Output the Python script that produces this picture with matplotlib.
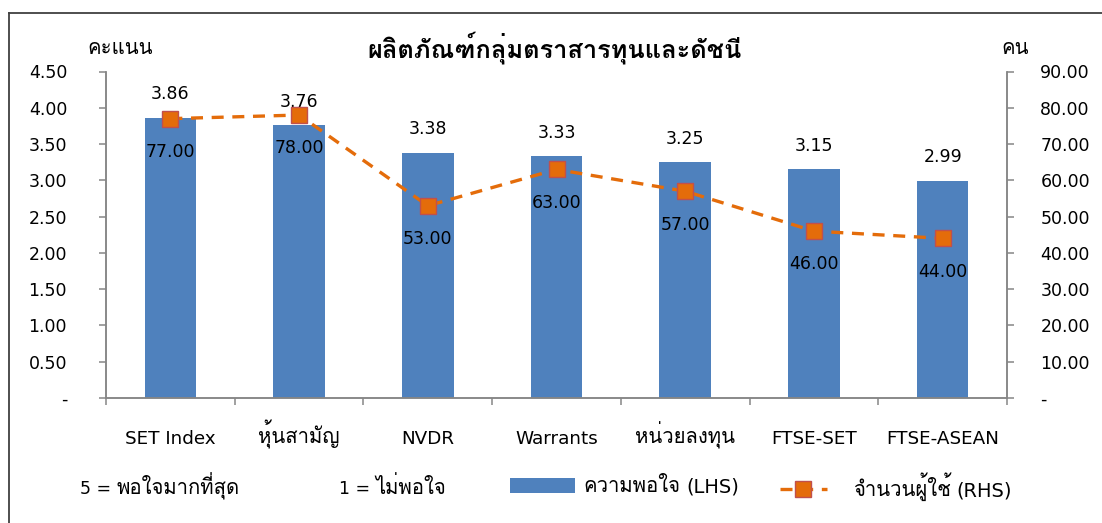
import re
import matplotlib
matplotlib.use("Agg")
import matplotlib.pyplot as plt
from matplotlib import font_manager
from matplotlib.ft2font import FT2Font
from matplotlib.lines import Line2D
from matplotlib.transforms import IdentityTransform
from matplotlib.ticker import FuncFormatter, MultipleLocator

categories = ['SET Index', 'หุ้นสามัญ', 'NVDR', 'Warrants', 'หน่วยลงทุน', 'FTSE-SET', 'FTSE-ASEAN']
scores = [3.86, 3.76, 3.38, 3.33, 3.25, 3.15, 2.99]
users = [77, 78, 53, 63, 57, 46, 44]

title = 'ผลิตภัณฑ์กลุ่มตราสารทุนและดัชนี'
left_label = 'คะแนน'
right_label = 'คน'
note_high = '5 = พอใจมากที่สุด'
note_low = '1 = ไม่พอใจ'
bar_name = 'ความพอใจ (LHS)'
line_name = 'จำนวนผู้ใช้ (RHS)'


def find_thai_font():
    """Return the name of an installed family that has Thai glyphs, if any."""
    seen = set()
    for f in font_manager.fontManager.ttflist:
        if f.name in seen:
            continue
        seen.add(f.name)
        try:
            if ord('ก') in FT2Font(f.fname).get_charmap():
                return f.name
        except Exception:
            pass
    return None


thai = find_thai_font()
plt.rcParams['font.family'] = ['DejaVu Sans'] + ([thai] if thai else [])

bar_color = '#4F81BD'
line_color = '#E46C0A'
edge_color = '#C0504D'
spine_color = '#868686'
fs = 12.5        # numbers
fs_cat = 13.2    # latin category names
fs_leg = 14      # latin part of the legend labels
thai_fs = 14.6   # thai glyphs come out smaller, so they get a bigger size
W, H = 1102, 523

fig = plt.figure(figsize=(W / 100, H / 100), dpi=100)
ax = fig.add_axes([106 / W, 1 - 398 / H, 901 / W, 326.5 / H])
ax2 = ax.twinx()

x = list(range(len(categories)))
bars = ax.bar(x, scores, width=0.4, color=bar_color, zorder=2)
ax.set_xlim(-0.5, len(categories) - 0.5)
ax.set_ylim(0, 4.5)
ax.yaxis.set_major_locator(MultipleLocator(0.5))
ax.yaxis.set_major_formatter(FuncFormatter(lambda v, p: '-' if abs(v) < 1e-9 else f'{v:.2f}'))

line, = ax2.plot(x, users, color=line_color, lw=2.4, dashes=(3.6, 2.6),
                 marker='s', markersize=12, markerfacecolor=line_color,
                 markeredgecolor=edge_color, markeredgewidth=1.0, zorder=3)
ax2.set_ylim(0, 90)
ax2.yaxis.set_major_locator(MultipleLocator(10))
ax2.yaxis.set_major_formatter(FuncFormatter(lambda v, p: '-' if abs(v) < 1e-9 else f'{v:.2f}'))

# category labels at centres, tick marks at the boundaries
ax.set_xticks(x)
ax.set_xticklabels(categories, fontsize=fs_cat)
ax.set_xticks([i - 0.5 for i in range(len(categories) + 1)], minor=True)
ax.xaxis.set_tick_params(which='major', length=0, pad=33)
ax.xaxis.set_tick_params(which='minor', length=5, width=1.1, color=spine_color, direction='out')
for lab in ax.get_xticklabels():
    lab.set_verticalalignment('baseline')
    if re.search('[\u0e00-\u0e7f]', lab.get_text()):
        lab.set_fontsize(thai_fs)

ax.yaxis.set_tick_params(which='major', length=5, width=1.1, color=spine_color, pad=23, labelsize=fs)
ax2.yaxis.set_tick_params(which='major', length=5, width=1.1, color=spine_color, pad=19, labelsize=fs)
for lab in ax2.get_yticklabels():
    lab.set_horizontalalignment('left')

for a in (ax, ax2):
    a.spines['top'].set_visible(False)
    for s in ('left', 'right', 'bottom'):
        a.spines[s].set_color(spine_color)
        a.spines[s].set_linewidth(1.1)
ax.patch.set_visible(False)
ax2.set_zorder(ax.get_zorder() + 1)

for xi, v in zip(x, scores):
    ax.annotate(f'{v:.2f}', (xi, v), xytext=(0, 17), textcoords='offset points',
                ha='center', va='center', fontsize=fs)
for xi, v in zip(x, users):
    ax2.annotate(f'{v:.2f}', (xi, v), xytext=(0, -24), textcoords='offset points',
                 ha='center', va='center', fontsize=fs)

fig.text(555 / W, 1 - 48 / H, title, ha='center', va='center', fontsize=18.3, fontweight='bold')
fig.text(87 / W, 1 - 48 / H, left_label, ha='left', va='center', fontsize=thai_fs)
fig.text(1001 / W, 1 - 48 / H, right_label, ha='left', va='center', fontsize=thai_fs)

renderer = fig.canvas.get_renderer()


def draw_runs(x_px, base_px, s, latin_size=fs):
    """Write s left-aligned at a pixel baseline, Thai runs at thai_fs, the rest at latin_size."""
    space_px = 0.318 * latin_size * 100 / 72
    cur = x_px
    for run in re.findall('[\u0e00-\u0e7f]+|[^\u0e00-\u0e7f]+', s):
        is_thai = '\u0e00' <= run[0] <= '\u0e7f'
        cur += (len(run) - len(run.lstrip())) * space_px
        t = fig.text(cur, base_px, run.strip(), transform=IdentityTransform(),
                     ha='left', va='baseline', fontsize=thai_fs if is_thai else latin_size)
        cur += t.get_window_extent(renderer).width
        cur += (len(run) - len(run.rstrip())) * space_px
    return cur


draw_runs(80, H - 494, note_high)
draw_runs(339, H - 494, note_low)

# legend entries: the Thai part goes in the legend, the latin tail is appended after it
for handle, name, x0, hlen, tpad in [(bars, bar_name, 510, 3.2, 0.4),
                                     (line, line_name, 780, 2.3, 1.28)]:
    head = re.match('[\u0e00-\u0e7f]+', name).group(0)
    leg = fig.legend([handle], [head], loc='center left',
                     bbox_to_anchor=(x0 / W, 1 - 487 / H), frameon=False,
                     fontsize=thai_fs, handlelength=hlen, handletextpad=tpad,
                     borderpad=0, borderaxespad=0)
    fig.canvas.draw()
    t = leg.get_texts()[0]
    bb = t.get_window_extent(renderer)
    base = t.get_transform().transform(t.get_position())[1]
    draw_runs(bb.x1, base, name[len(head):], latin_size=fs_leg)

# outer frame (top and left edges are visible in the original)
fig.add_artist(Line2D([9 / W, 1.0], [1 - 13 / H, 1 - 13 / H], color='#404040', lw=1.3, transform=fig.transFigure))
fig.add_artist(Line2D([9 / W, 9 / W], [0.0, 1 - 13 / H], color='#404040', lw=1.3, transform=fig.transFigure))

fig.savefig('out.png', dpi=100)
